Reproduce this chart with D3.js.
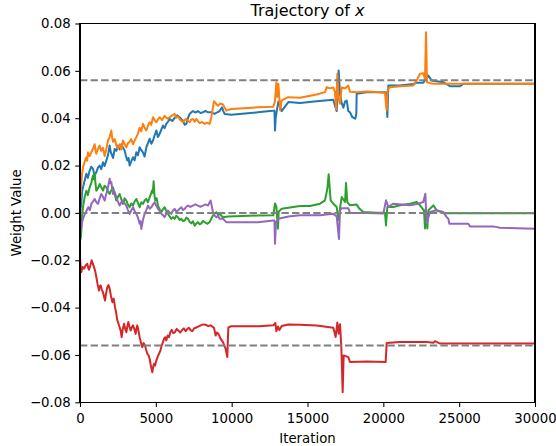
<!DOCTYPE html>
<html><head><meta charset="utf-8">
<script src="https://cdn.jsdelivr.net/npm/d3@7"></script>
<style>body{margin:0;background:#fff}svg{display:block}text{font-family:"DejaVu Sans",sans-serif}</style>
</head><body><svg id="c" width="556" height="446"></svg>
<script>
const xTicks = [0,5000,10000,15000,20000,25000,30000];
const xTickLabels = ["0","5000","10000","15000","20000","25000","30000"];
const yTicks = [-0.08,-0.06,-0.04,-0.02,0,0.02,0.04,0.06,0.08];
const yTickLabels = ["\u22120.08","\u22120.06","\u22120.04","\u22120.02","0.00","0.02","0.04","0.06","0.08"];
const refLevels = [0.056, 0, -0.056];
const seriesColors = ["#1f77b4","#ff7f0e","#2ca02c","#d62728","#9467bd"];

const blue = [[0,-0.002],[40,0.002],[88,0.004],[140,0.009],[200,0.0108],[300,0.0135],[417,0.0165],[520,0.0148],[637,0.0179],[740,0.0195],[857,0.0186],[960,0.0158],[1077,0.0172],[1190,0.0192],[1296,0.020],[1400,0.0185],[1516,0.0214],[1620,0.0198],[1736,0.0221],[1850,0.0245],[1956,0.0285],[2010,0.0262],[2066,0.025],[2180,0.0232],[2286,0.027],[2400,0.0262],[2505,0.0285],[2610,0.0268],[2725,0.029],[2840,0.0275],[2945,0.0263],[3030,0.024],[3120,0.0221],[3200,0.0232],[3274,0.020],[3380,0.0218],[3494,0.0235],[3600,0.0222],[3714,0.0256],[3820,0.0243],[3933,0.0277],[4040,0.0265],[4153,0.0256],[4260,0.0238],[4373,0.0277],[4480,0.0295],[4592,0.0313],[4700,0.0292],[4812,0.0306],[4920,0.0328],[5032,0.0348],[5140,0.032],[5252,0.0334],[5360,0.0352],[5471,0.0369],[5580,0.0358],[5691,0.0376],[5800,0.0385],[5911,0.0397],[6080,0.0388],[6240,0.0401],[6400,0.0412],[6570,0.0404],[6680,0.0396],[6790,0.039],[6900,0.0372],[7010,0.0376],[7120,0.040],[7230,0.0418],[7340,0.0425],[7449,0.043],[7600,0.0424],[7779,0.043],[7950,0.0422],[8109,0.0425],[8270,0.0431],[8438,0.0425],[8658,0.0425],[8878,0.0418],[9050,0.0425],[9207,0.043],[9361,0.0446],[9450,0.043],[9537,0.0418],[9977,0.0415],[11735,0.0425],[12527,0.043],[12820,0.0432],[12857,0.0348],[12900,0.040],[13077,0.047],[13297,0.043],[13736,0.0468],[14505,0.0464],[15604,0.0472],[16703,0.0478],[16923,0.043],[17055,0.0602],[17143,0.050],[17253,0.0465],[17363,0.0444],[17473,0.047],[17582,0.0475],[17692,0.043],[17802,0.0425],[17950,0.0405],[18150,0.0398],[18220,0.042],[18242,0.0503],[18901,0.051],[20000,0.051],[20176,0.051],[20264,0.0405],[20330,0.0538],[21099,0.0538],[21978,0.0545],[22198,0.055],[22637,0.055],[22967,0.058],[23187,0.0559],[23956,0.0552],[24396,0.0535],[25055,0.0535],[25275,0.0545],[30000,0.0545]];

const orange = [[0,0.004],[60,0.010],[130,0.016],[200,0.0193],[300,0.0215],[417,0.0235],[470,0.022],[527,0.0256],[640,0.024],[747,0.0256],[850,0.027],[966,0.029],[1020,0.0265],[1077,0.025],[1180,0.027],[1296,0.0285],[1400,0.0262],[1510,0.0275],[1626,0.024],[1730,0.0268],[1846,0.0306],[1950,0.032],[2066,0.0348],[2120,0.0318],[2176,0.030],[2290,0.0312],[2395,0.0285],[2500,0.0272],[2615,0.029],[2720,0.0268],[2835,0.0306],[2940,0.029],[3054,0.0277],[3160,0.0295],[3274,0.030],[3380,0.0312],[3494,0.029],[3600,0.0305],[3714,0.032],[3820,0.0335],[3933,0.036],[4040,0.0345],[4153,0.0376],[4260,0.036],[4373,0.0348],[4480,0.0368],[4592,0.0383],[4700,0.0372],[4812,0.0404],[4920,0.0392],[5032,0.0383],[5140,0.0395],[5252,0.0404],[5420,0.0392],[5581,0.041],[5750,0.0398],[5911,0.0404],[6080,0.0412],[6240,0.0418],[6350,0.0402],[6460,0.0407],[6620,0.0392],[6790,0.0383],[6900,0.0392],[7010,0.0397],[7120,0.0388],[7230,0.0383],[7340,0.0395],[7449,0.0397],[7560,0.0385],[7669,0.0397],[7780,0.0388],[7889,0.0379],[8050,0.0384],[8218,0.0376],[8380,0.0381],[8548,0.0376],[8658,0.0404],[8834,0.0472],[9000,0.0458],[9097,0.0453],[9250,0.0462],[9427,0.0458],[9647,0.0432],[9977,0.0439],[11735,0.0446],[12747,0.0448],[12850,0.047],[12950,0.0552],[13000,0.049],[13077,0.0545],[13200,0.0433],[13300,0.0475],[13736,0.0489],[14505,0.0486],[15604,0.050],[16154,0.051],[16264,0.0531],[16483,0.0526],[16703,0.053],[16813,0.051],[16890,0.0436],[16967,0.0588],[17033,0.049],[17143,0.0461],[17253,0.053],[17473,0.0526],[17692,0.0538],[17802,0.0512],[18242,0.051],[18901,0.0513],[19780,0.051],[20110,0.0506],[20220,0.0433],[20286,0.052],[20440,0.0531],[21099,0.0535],[21978,0.0538],[22198,0.0559],[22418,0.0588],[22637,0.059],[22747,0.0565],[22813,0.0763],[22879,0.0552],[23297,0.0545],[30000,0.0545]];

const green = [[0,-0.0102],[40,-0.011],[88,-0.0075],[140,-0.001],[200,0.0024],[300,0.0065],[417,0.0094],[520,0.0075],[637,0.0108],[750,0.0128],[857,0.0158],[910,0.0142],[966,0.0168],[1020,0.0125],[1077,0.0094],[1190,0.0105],[1296,0.0122],[1400,0.0108],[1516,0.0094],[1620,0.0115],[1736,0.0108],[1850,0.0092],[1956,0.008],[2060,0.0095],[2176,0.0108],[2290,0.0078],[2395,0.0052],[2500,0.0068],[2615,0.008],[2720,0.0058],[2835,0.0038],[2940,0.0062],[3054,0.0052],[3160,0.0035],[3274,0.0024],[3380,0.004],[3494,0.0031],[3600,0.0048],[3714,0.0059],[3820,0.0042],[3933,0.0024],[4040,0.0045],[4153,0.0038],[4260,0.0052],[4373,0.0059],[4480,0.0045],[4592,0.0066],[4670,0.0078],[4746,0.0094],[4800,0.0085],[4856,0.0134],[4900,0.008],[4966,0.0052],[5050,0.0062],[5142,0.0031],[5250,0.0015],[5361,0.0003],[5470,0.0015],[5581,0.0024],[5690,0.0008],[5801,-0.0004],[5910,-0.0015],[6021,-0.0025],[6130,-0.0018],[6240,-0.0025],[6350,-0.0012],[6460,-0.0018],[6570,-0.003],[6680,-0.0025],[6790,-0.0035],[6900,-0.0032],[7010,-0.002],[7120,-0.0025],[7230,-0.0038],[7339,-0.0044],[7450,-0.0035],[7559,-0.0054],[7670,-0.0045],[7779,-0.0039],[7890,-0.0048],[7999,-0.0044],[8110,-0.0034],[8218,-0.0039],[8380,-0.0046],[8548,-0.0039],[8650,-0.0025],[8768,-0.0011],[8880,-0.0002],[8988,0.0003],[9100,-0.0008],[9207,-0.0004],[9320,-0.0012],[9427,-0.0018],[9757,-0.0015],[11735,-0.0011],[12747,-0.001],[12857,0.004],[12950,0.0025],[13050,-0.0067],[13100,0.0005],[13300,0.0018],[14505,0.0029],[15165,0.0029],[15824,0.0039],[16154,0.0053],[16308,0.0102],[16396,0.0163],[16527,0.0053],[16703,0.0039],[16923,0.0025],[17033,-0.003],[17143,0.002],[17253,0.0067],[17473,0.0046],[17539,0.0126],[17626,0.0046],[17802,0.0032],[18242,0.0035],[18418,0.0018],[18681,0.0004],[19560,0.0001],[20110,0.0001],[20176,-0.0053],[20264,0.0025],[20659,0.0025],[21099,0.0032],[21758,0.0039],[22198,0.0046],[22418,0.0032],[22681,0.001],[22747,-0.0066],[22800,0.002],[22900,-0.0066],[22967,0.001],[23297,0.0032],[23516,0.0011],[23956,-0.0001],[30000,-0.0001]];

const red = [[0,-0.0187],[40,-0.0225],[88,-0.025],[170,-0.0228],[264,-0.0236],[370,-0.0222],[483,-0.0215],[540,-0.0232],[593,-0.024],[680,-0.0222],[769,-0.020],[850,-0.0215],[923,-0.0229],[1000,-0.0245],[1077,-0.0271],[1160,-0.0302],[1252,-0.0328],[1300,-0.031],[1362,-0.0306],[1440,-0.0325],[1516,-0.0335],[1580,-0.0352],[1648,-0.037],[1720,-0.034],[1802,-0.0313],[1880,-0.0305],[1956,-0.032],[2040,-0.035],[2132,-0.0377],[2220,-0.0362],[2308,-0.0398],[2380,-0.042],[2461,-0.0454],[2540,-0.0468],[2615,-0.0483],[2680,-0.0498],[2747,-0.0525],[2820,-0.049],[2901,-0.0468],[2980,-0.049],[3054,-0.0504],[3120,-0.048],[3186,-0.0461],[3260,-0.048],[3340,-0.0497],[3420,-0.0482],[3494,-0.0475],[3580,-0.049],[3670,-0.0511],[3720,-0.049],[3780,-0.0475],[3860,-0.050],[3933,-0.0525],[4020,-0.0548],[4109,-0.0567],[4200,-0.055],[4285,-0.056],[4360,-0.0578],[4439,-0.0595],[4520,-0.0602],[4592,-0.0616],[4680,-0.0648],[4768,-0.0673],[4820,-0.0652],[4878,-0.0637],[4950,-0.0645],[5032,-0.0623],[5120,-0.0608],[5208,-0.0595],[5300,-0.0582],[5384,-0.056],[5460,-0.0548],[5537,-0.0532],[5610,-0.0525],[5691,-0.0539],[5780,-0.0518],[5867,-0.0525],[5950,-0.0505],[6043,-0.0494],[6150,-0.0508],[6262,-0.0504],[6370,-0.049],[6482,-0.0497],[6610,-0.0505],[6746,-0.0494],[6850,-0.0488],[6966,-0.05],[7080,-0.049],[7186,-0.0485],[7290,-0.0495],[7405,-0.05],[7520,-0.0488],[7625,-0.0485],[7790,-0.048],[7955,-0.0475],[8120,-0.0471],[8284,-0.0472],[8450,-0.0478],[8614,-0.0475],[8834,-0.0485],[8944,-0.0518],[9030,-0.0505],[9120,-0.051],[9273,-0.0532],[9427,-0.0546],[9603,-0.0574],[9713,-0.0609],[9779,-0.0485],[9933,-0.0479],[11801,-0.0479],[12747,-0.0475],[12880,-0.0465],[12950,-0.050],[13050,-0.048],[13150,-0.0495],[13297,-0.0478],[13736,-0.0471],[14505,-0.0472],[15604,-0.0476],[16703,-0.0485],[16857,-0.0524],[16967,-0.0463],[17055,-0.051],[17143,-0.047],[17231,-0.0567],[17319,-0.0757],[17385,-0.0602],[17692,-0.0609],[17802,-0.063],[18901,-0.0628],[20154,-0.063],[20220,-0.055],[21099,-0.0545],[22857,-0.0545],[23297,-0.0548],[23407,-0.0542],[23736,-0.0552],[30000,-0.0552]];

const purple = [[0,-0.006],[50,-0.0075],[110,-0.0046],[220,-0.002],[330,-0.0004],[440,0.001],[550,0.0024],[650,0.0012],[747,0.0038],[860,0.0048],[966,0.0059],[1080,0.0045],[1186,0.0038],[1300,0.0062],[1406,0.008],[1510,0.0068],[1626,0.0052],[1710,0.0075],[1802,0.0094],[1880,0.012],[1956,0.0144],[2010,0.0125],[2066,0.013],[2120,0.0105],[2176,0.008],[2290,0.0088],[2395,0.0066],[2500,0.0048],[2615,0.0031],[2720,0.0045],[2835,0.0052],[2940,0.004],[3054,0.0031],[3160,0.0012],[3274,-0.0004],[3380,0.001],[3494,0.0024],[3600,0.0008],[3714,-0.0004],[3820,-0.002],[3933,-0.0046],[3990,-0.0035],[4043,-0.0068],[4150,-0.003],[4263,-0.0004],[4370,0.0012],[4483,0.0031],[4590,0.0018],[4702,0.0024],[4810,0.0035],[4922,0.0045],[5030,0.003],[5142,0.0017],[5250,0.0008],[5361,-0.0004],[5470,-0.001],[5581,-0.0018],[5690,-0.0002],[5801,0.001],[5910,0.0002],[6021,-0.0004],[6130,0.001],[6240,0.0017],[6350,0.0005],[6460,0.001],[6570,0.0018],[6680,0.0024],[6790,0.0012],[6900,0.0017],[7010,0.0026],[7120,0.0031],[7280,0.0025],[7449,0.0031],[7610,0.0036],[7779,0.0031],[7940,0.0026],[8109,0.0031],[8270,0.0036],[8438,0.0031],[8614,0.0052],[8768,0.0003],[8880,-0.0012],[8988,-0.0018],[9100,-0.0012],[9207,-0.0025],[9427,-0.0025],[9647,-0.0039],[9977,-0.0039],[11735,-0.0039],[12747,-0.0032],[12820,-0.0032],[12857,-0.013],[12920,-0.004],[13100,-0.0025],[13736,-0.0015],[14505,-0.001],[15824,-0.001],[16703,-0.0004],[16923,-0.0015],[17077,-0.011],[17143,0.001],[17253,0.002],[17692,0.002],[17802,0],[18901,0],[20000,-0.0003],[20176,0.0053],[20330,0.0025],[20659,0.0039],[21758,0.0032],[22308,0.0039],[22637,0.0046],[22769,0.0081],[22857,-0.0045],[23077,0.0004],[23516,0.0011],[23956,0.0004],[24176,-0.0018],[24286,-0.0025],[24352,-0.0046],[25604,-0.0046],[25714,-0.0057],[27253,-0.0057],[27692,-0.0063],[30000,-0.0067]];

const allSeries = [blue, orange, green, red, purple];

const L = 80, R = 535, T = 23.5, B = 402.3;
const svg = d3.select("#c");
const x = d3.scaleLinear().domain([0,30000]).range([L,R]);
const y = d3.scaleLinear().domain([-0.08,0.08]).range([B,T]);

const line = d3.line().x(d => x(d[0])).y(d => y(d[1]));
const g = svg.append("g");
allSeries.forEach((s,i) => {
  g.append("path").datum(s).attr("d", line)
    .attr("fill","none").attr("stroke", seriesColors[i])
    .attr("stroke-width", 2).attr("stroke-linejoin","round").attr("stroke-linecap","butt");
});
svg.append("g").selectAll("line").data(refLevels).join("line")
  .attr("x1", L).attr("x2", R)
  .attr("y1", d => y(d)).attr("y2", d => y(d))
  .attr("stroke","#808080").attr("stroke-width",2).attr("stroke-dasharray","7.4,3.2");

const xAxis = d3.axisBottom(x).tickValues(xTicks).tickFormat((d,i)=>xTickLabels[i]).tickSize(4.7).tickSizeOuter(0).tickPadding(6.5);
const gx = svg.append("g").attr("transform",`translate(0,${B})`).call(xAxis);
const yAxis = d3.axisLeft(y).tickValues(yTicks).tickFormat((d,i)=>yTickLabels[i]).tickSize(4.7).tickSizeOuter(0).tickPadding(4.6);
const gy = svg.append("g").attr("transform",`translate(${L},0)`).call(yAxis);
[gx,gy].forEach(a => {
  a.select(".domain").remove();
  a.selectAll("line").attr("stroke","#000").attr("stroke-width",1.07);
  a.selectAll("text").attr("fill","#000").style("font-size","13.3px").style("font-family","'DejaVu Sans'");
});

svg.append("rect").attr("x",L).attr("y",T).attr("width",R-L).attr("height",B-T)
  .attr("fill","none").attr("stroke","#000").attr("stroke-width",1.07).attr("shape-rendering","crispEdges");

const title = svg.append("text").attr("x",(L+R)/2).attr("y",15.5).attr("text-anchor","middle")
  .style("font-size","16px").attr("fill","#000");
title.append("tspan").text("Trajectory of ");
title.append("tspan").style("font-style","italic").text("x");

svg.append("text").attr("x",(L+R)/2).attr("y",443).attr("text-anchor","middle")
  .style("font-size","13.3px").attr("fill","#000").text("Iteration");
svg.append("text").attr("transform",`translate(20.5,${(T+B)/2}) rotate(-90)`).attr("text-anchor","middle")
  .style("font-size","13.3px").attr("fill","#000").text("Weight Value");
</script></body></html>
